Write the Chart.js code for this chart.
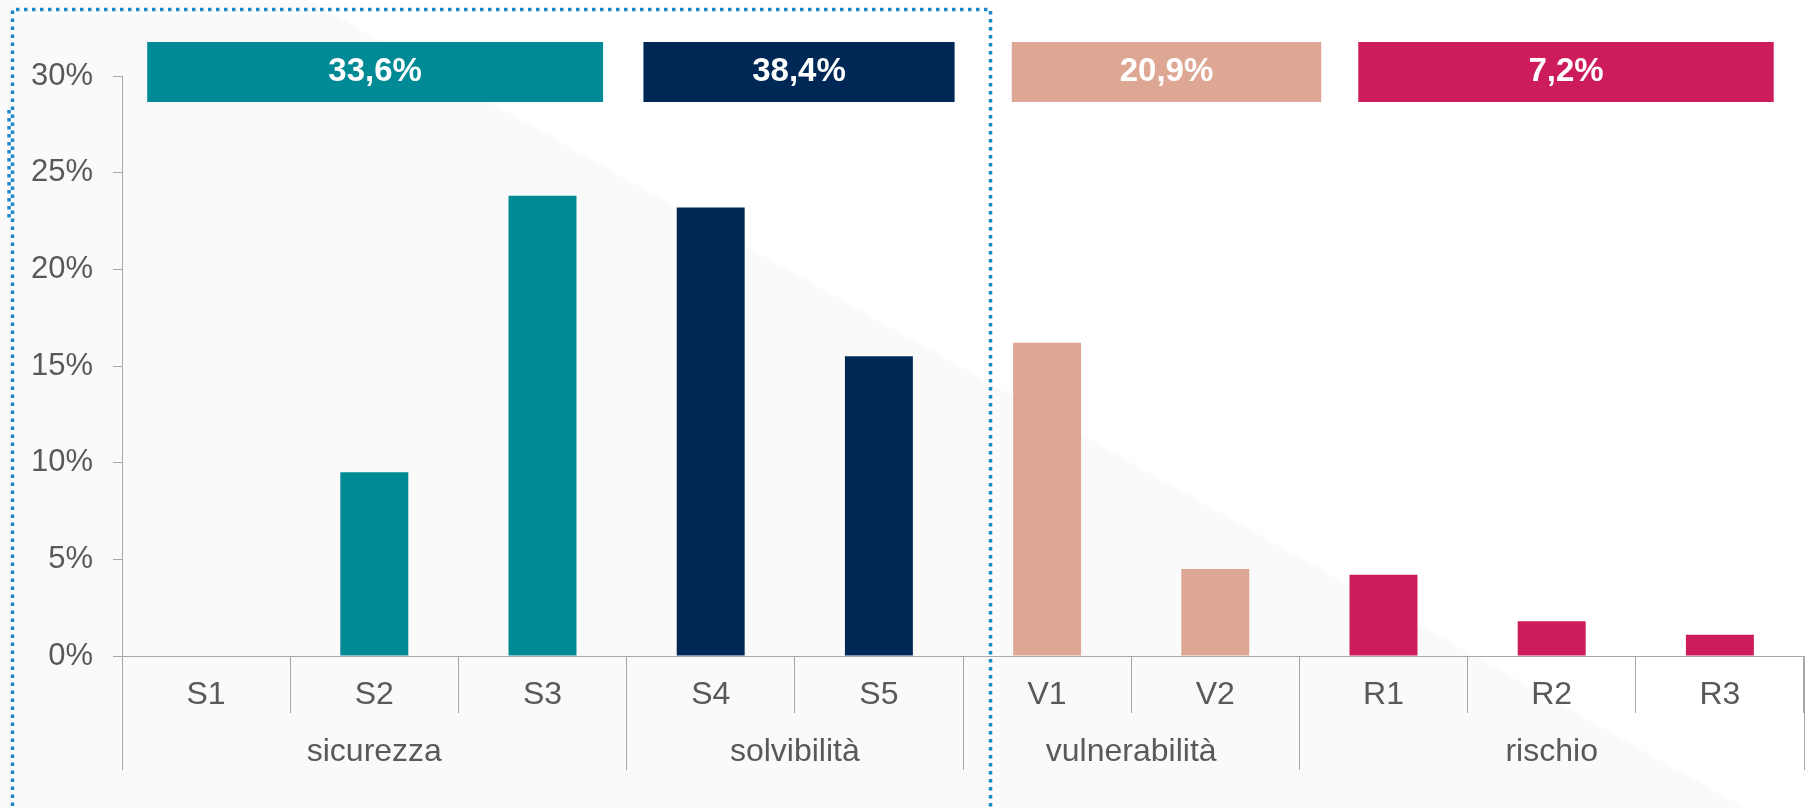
<!DOCTYPE html>
<html>
<head>
<meta charset="utf-8">
<script src="https://cdn.jsdelivr.net/npm/chart.js@4.4.1/dist/chart.umd.min.js"></script>
<style>
  html, body { margin: 0; padding: 0; background: #fff; }
  canvas { display: block; }
</style>
</head>
<body>
<canvas id="c" width="1813" height="808"></canvas>
<script>
// data
const categories = ['S1', 'S2', 'S3', 'S4', 'S5', 'V1', 'V2', 'R1', 'R2', 'R3'];
const values = [0, 9.5, 23.8, 23.2, 15.5, 16.2, 4.5, 4.2, 1.8, 1.1];
const groupNames = ['sicurezza', 'solvibilità', 'vulnerabilità', 'rischio'];
const groupSizes = [3, 2, 2, 3];
const groupTotals = ['33,6%', '38,4%', '20,9%', '7,2%'];

// styles
const groupColors = ['#008a95', '#002856', '#dea793', '#cd1c5b'];
const textColor = '#595959';
const axisColor = '#a8a8a8';
const font = '"Liberation Sans", Arial, sans-serif';
// header boxes, in category units (drawn by hand in the original)
const headerSpans = [[-0.35, 2.36], [2.60, 4.45], [4.79, 6.63], [6.85, 9.32]];

const barColors = [];
groupSizes.forEach((n, i) => { for (let k = 0; k < n; k++) barColors.push(groupColors[i]); });

const decor = {
    id: 'decor',
    beforeDraw(chart) {
        const { ctx, width, height } = chart;
        ctx.save();
        ctx.fillStyle = '#ffffff';
        ctx.fillRect(0, 0, width, height);
        ctx.fillStyle = '#fafafa';
        ctx.beginPath();
        ctx.moveTo(0, 0);
        ctx.lineTo(308, 0);
        ctx.lineTo(1745, 808);
        ctx.lineTo(0, 808);
        ctx.closePath();
        ctx.fill();
        ctx.restore();
    },
    afterDraw(chart) {
        const { ctx, chartArea } = chart;
        const x = chart.scales.x;
        ctx.save();

        // group names + long dividers
        ctx.font = '32px ' + font;
        ctx.fillStyle = textColor;
        ctx.textAlign = 'center';
        ctx.textBaseline = 'middle';
        let start = 0;
        const edges = [0];
        groupSizes.forEach((n, i) => {
            const a = x.getPixelForValue(start - 0.5);
            const b = x.getPixelForValue(start + n - 0.5);
            ctx.fillText(groupNames[i], (a + b) / 2, chartArea.bottom + 96);
            start += n;
            edges.push(start);
        });
        ctx.strokeStyle = axisColor;
        ctx.lineWidth = 1;
        edges.forEach(e => {
            const px = Math.round(x.getPixelForValue(e - 0.5) - 0.5) + 0.5;
            ctx.beginPath();
            ctx.moveTo(px, chartArea.bottom);
            ctx.lineTo(px, chartArea.bottom + 114);
            ctx.stroke();
        });

        // header boxes with totals
        headerSpans.forEach((s, i) => {
            const a = x.getPixelForValue(s[0]);
            const b = x.getPixelForValue(s[1]);
            ctx.fillStyle = groupColors[i];
            ctx.fillRect(a, chartArea.top - 34, b - a, 60);
            ctx.fillStyle = '#ffffff';
            ctx.font = 'bold 33px ' + font;
            ctx.fillText(groupTotals[i], (a + b) / 2, chartArea.top - 4);
        });

        // dotted frame
        ctx.strokeStyle = '#1f87c7';
        ctx.lineWidth = 3.5;
        ctx.setLineDash([3.5, 4.5]);
        ctx.beginPath();
        ctx.moveTo(12.5, 830);
        ctx.lineTo(12.5, 9.5);
        ctx.lineTo(990.5, 9.5);
        ctx.lineTo(990.5, 830);
        ctx.stroke();
        ctx.beginPath();
        ctx.moveTo(9, 110);
        ctx.lineTo(9, 222);
        ctx.stroke();
        ctx.restore();
    }
};

new Chart(document.getElementById('c').getContext('2d'), {
    type: 'bar',
    data: {
        labels: categories,
        datasets: [{
            data: values,
            backgroundColor: barColors,
            borderWidth: 0,
            categoryPercentage: 1,
            barPercentage: 0.404
        }]
    },
    options: {
        responsive: false,
        devicePixelRatio: 1,
        animation: false,
        layout: { padding: { top: 76, right: 9, left: 0, bottom: 0 } },
        plugins: {
            legend: { display: false },
            tooltip: { enabled: false }
        },
        scales: {
            x: {
                offset: true,
                afterFit: s => { s.height = 152; },
                grid: {
                    offset: true,
                    drawOnChartArea: false,
                    tickLength: 57,
                    color: axisColor
                },
                border: { color: axisColor },
                ticks: {
                    color: textColor,
                    font: { family: font, size: 32 },
                    padding: -37,
                    maxRotation: 0,
                    autoSkip: false
                }
            },
            y: {
                min: 0,
                max: 30,
                afterFit: s => { s.width = 122; },
                grid: {
                    drawOnChartArea: false,
                    tickLength: 9,
                    color: axisColor
                },
                border: { color: axisColor },
                ticks: {
                    stepSize: 5,
                    color: textColor,
                    font: { family: font, size: 31 },
                    padding: 20,
                    callback: v => v + '%'
                }
            }
        }
    },
    plugins: [decor]
});
</script>
</body>
</html>
